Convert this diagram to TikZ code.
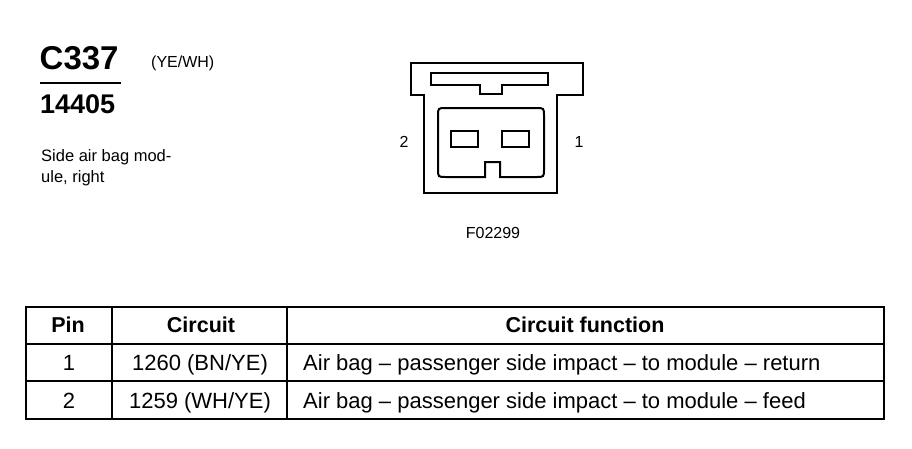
\documentclass[tikz,border=0pt]{standalone}
\usepackage{fontspec}
\setmainfont{Liberation Sans}
\begin{document}
\begin{tikzpicture}[x=1pt,y=-1pt,
  line/.style={line width=2pt,line join=miter},
  thin/.style={line width=1.5pt},
  lbl/.style={inner sep=0pt,font=\fontsize{16}{18}\selectfont},
  cell/.style={inner sep=0pt,font=\fontsize{22}{24}\selectfont},
  head/.style={inner sep=0pt,font=\fontsize{21.5}{24}\selectfont\bfseries}]
\useasboundingbox (0,0) rectangle (912,448);
% left texts
\node[inner sep=0pt,anchor=base west,font=\fontsize{33}{36}\selectfont\bfseries] (conn) at (39.5,69.5) {C337};
\node[lbl,anchor=base west] (col) at (151,67) {(YE/WH)};
\draw[thin] (40,83) -- (121,83);
\node[inner sep=0pt,anchor=base west,font=\fontsize{27}{30}\selectfont\bfseries] (part) at (40,113.5) {14405};
\node[inner sep=0pt,anchor=base west,font=\fontsize{16.5}{21}\selectfont] (d1) at (41,161) {Side air bag mod-};
\node[inner sep=0pt,anchor=base west,font=\fontsize{16.5}{21}\selectfont] (d2) at (41,182) {ule, right};
% connector
\draw[line] (411,63) -- (583,63) -- (583,95) -- (557,95) -- (557,193) -- (424,193) -- (424,95) -- (411,95) -- cycle;
\draw[line] (431,73) -- (548,73) -- (548,85) -- (502,85) -- (502,94) -- (480,94) -- (480,85) -- (431,85) -- cycle;
\draw[line] (485,177) -- (446,177) .. controls (438,177) .. (438,169) -- (438,116) .. controls (438,108) .. (446,108) -- (536,108) .. controls (544,108) .. (544,116) -- (544,169) .. controls (544,177) .. (536,177) -- (500,177) -- (500,162) -- (485,162) -- cycle;
\draw[line] (451,131) rectangle (478,147);
\draw[line] (502,131) rectangle (529,147);
\node[lbl,anchor=base] (p2) at (404,147) {2};
\node[lbl,anchor=base] (p1) at (579,147) {1};
\node[lbl,anchor=base] (fig) at (493,238) {F02299};
% table
\draw[line] (26,307) rectangle (884,419);
\draw[line] (26,344) -- (884,344);
\draw[line] (26,381) -- (884,381);
\draw[line] (112,307) -- (112,419);
\draw[line] (287,307) -- (287,419);
\node[head,anchor=base] (h1) at (68,332.5) {Pin};
\node[head,anchor=base] (h2) at (201,332.5) {Circuit};
\node[head,anchor=base] (h3) at (585,332.5) {Circuit function};
\node[cell,anchor=base] (r1a) at (69,370) {1};
\node[cell,anchor=base] (r1b) at (200,370) {1260 (BN/YE)};
\node[cell,anchor=base west] (r1c) at (303,370) {Air bag – passenger side impact – to module – return};
\node[cell,anchor=base] (r2a) at (69,408) {2};
\node[cell,anchor=base] (r2b) at (200,408) {1259 (WH/YE)};
\node[cell,anchor=base west] (r2c) at (303,408) {Air bag – passenger side impact – to module – feed};
\end{tikzpicture}
\end{document}
